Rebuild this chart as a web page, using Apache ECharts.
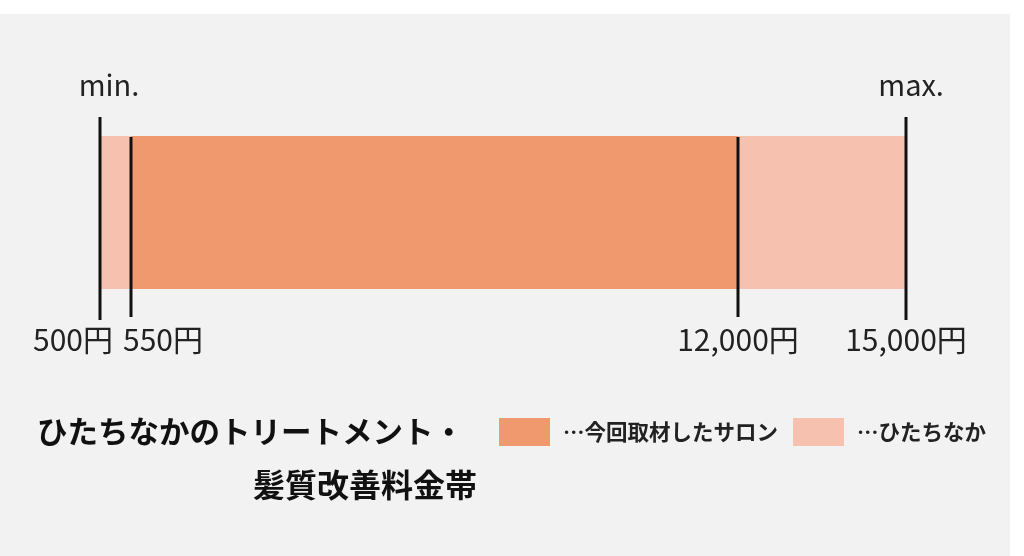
<!DOCTYPE html>
<html>
<head>
<meta charset="utf-8">
<script src="https://cdn.jsdelivr.net/npm/echarts@6/dist/echarts.min.js"></script>
<style>
  html, body { margin: 0; padding: 0; background: #fff; }
  #wrap { position: relative; width: 1024px; height: 556px; }
  #panel { position: absolute; left: 0; top: 14px; width: 1010px; height: 542px; background: #f2f2f2; }
  #chart { position: absolute; left: 0; top: 0; width: 1024px; height: 556px; }
</style>
</head>
<body>
<div id="wrap"><div id="panel"></div><div id="chart"></div></div>
<script>
var tickValues = [500, 550, 12000, 15000];
var tickLabels = ['500円', '550円', '12,000円', '15,000円'];
var endLabels = ['min.', '', '', 'max.'];
var seriesNames = ['…今回取材したサロン', '…ひたちなか'];
var salonRange = [550, 12000];
var areaRange = [500, 15000];
var colors = ['#f0996f', '#f6c1af'];

var font = '"Noto Sans CJK JP", "Noto Sans", sans-serif';
var chart = echarts.init(document.getElementById('chart'));

function renderRange(params, api) {
  var cs = params.coordSys;
  var x0 = api.coord([api.value(0), 0])[0];
  var x1 = api.coord([api.value(1), 0])[0];
  return {
    type: 'rect',
    shape: { x: x0, y: cs.y + 19, width: x1 - x0, height: 153 },
    style: { fill: api.visual('color') }
  };
}

function renderTick(params, api) {
  var cs = params.coordSys;
  var i = params.dataIndex;
  var x = Math.round(api.coord([api.value(0), 0])[0]);
  var outer = (i == 0 || i == tickValues.length - 1);
  var top = outer ? cs.y : cs.y + 20;
  var bottom = outer ? cs.y + cs.height : cs.y + cs.height - 3;
  var align = 'center', tx = x;
  if (i == 0) { align = 'right'; tx = x + 13; }
  if (i == 1) { align = 'left'; tx = x - 8; }
  var children = [{
    type: 'line',
    shape: { x1: x, y1: top, x2: x, y2: bottom },
    style: { stroke: '#111', lineWidth: 3 }
  }, {
    type: 'text',
    style: {
      text: tickLabels[i], x: tx, y: cs.y + cs.height + 20,
      align: align, verticalAlign: 'middle',
      fill: '#222', font: '30px ' + font
    }
  }];
  if (endLabels[i]) {
    children.push({
      type: 'text',
      style: {
        text: endLabels[i], x: x + (i == 0 ? 9 : 5), y: cs.y - 32,
        align: 'center', verticalAlign: 'middle',
        fill: '#222', font: '29px ' + font
      }
    });
  }
  return { type: 'group', children: children };
}

option = {
  backgroundColor: 'transparent',
  animation: false,
  title: [{
    text: 'ひたちなかのトリートメント・',
    left: 37, top: 416, padding: 0,
    textStyle: { fontSize: 30.5, fontWeight: 'bold', color: '#111', fontFamily: font }
  }, {
    text: '髪質改善料金帯',
    left: 253, top: 469, padding: 0,
    textStyle: { fontSize: 32, fontWeight: 'bold', color: '#111', fontFamily: font }
  }],
  legend: {
    data: seriesNames,
    left: 499, top: 418, padding: 0,
    icon: 'rect', itemWidth: 51, itemHeight: 28, itemGap: 15,
    selectedMode: false,
    textStyle: { fontSize: 21.5, fontWeight: 'bold', color: '#222', fontFamily: font, padding: [0, 0, 0, 8] }
  },
  grid: { left: 100, right: 118, top: 117, height: 203 },
  xAxis: {
    type: 'value',
    min: tickValues[0],
    max: tickValues[tickValues.length - 1],
    show: false,
    breaks: [
      { start: 600, end: 11900, gap: 829 },
      { start: 12100, end: 14900, gap: 71 }
    ],
    breakArea: { show: false }
  },
  yAxis: { type: 'value', min: 0, max: 1, show: false },
  series: [{
    name: seriesNames[1],
    type: 'custom',
    renderItem: renderRange,
    itemStyle: { color: colors[1] },
    encode: { x: [0, 1] },
    data: [areaRange],
    z: 1
  }, {
    name: seriesNames[0],
    type: 'custom',
    renderItem: renderRange,
    itemStyle: { color: colors[0] },
    encode: { x: [0, 1] },
    data: [salonRange],
    z: 2
  }, {
    type: 'custom',
    renderItem: renderTick,
    encode: { x: 0 },
    data: tickValues.map(function(v) { return [v]; }),
    z: 3
  }]
};
chart.setOption(option);
</script>
</body>
</html>
